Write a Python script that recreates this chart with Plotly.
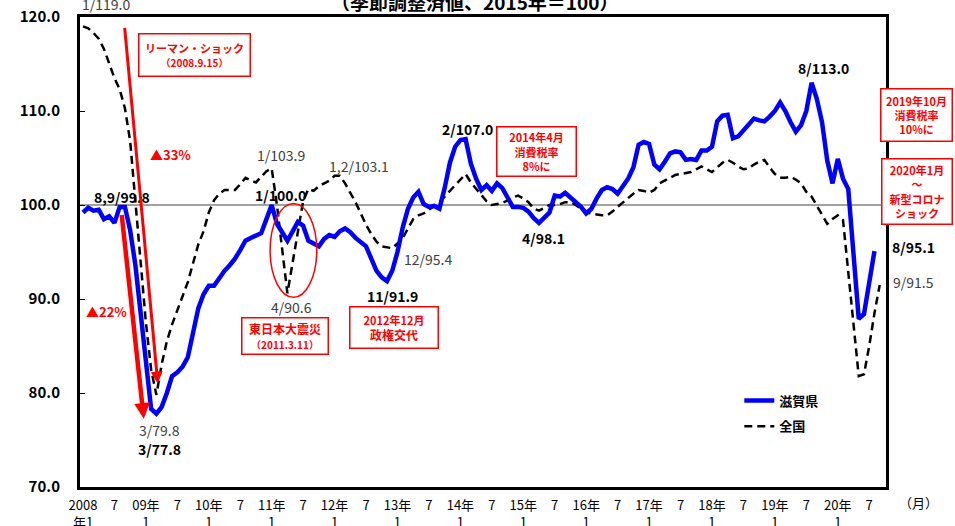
import plotly.graph_objects as go

# ---------------- data ----------------
start_year = 2008
months = [f"{start_year + i // 12}-{i % 12 + 1:02d}" for i in range(153)]

# 滋賀県 (2008-01 .. 2020-08)
shiga = [
    99.2, 99.7, 99.4, 99.5, 98.5, 98.8, 98.1, 99.8, 99.8, 97.3, 93.6, 88.2,
    82.9, 78.3, 77.8, 78.5, 80.0, 81.8, 82.2, 82.8, 83.8, 86.5, 89.0, 90.5,
    91.4, 91.4, 92.3, 93.0, 93.6, 94.3, 95.2, 96.2, 96.5, 96.8, 97.0, 98.5,
    100.0, 98.0, 97.0, 96.2, 97.2, 98.2, 97.8, 96.2, 95.9, 95.6, 96.4, 96.8,
    96.6, 97.2, 97.5, 97.1, 96.5, 96.1, 95.6, 94.3, 93.0, 92.3, 91.9, 93.0,
    95.0, 97.6, 99.6, 100.8, 101.4, 100.1, 99.8, 99.9, 99.6, 101.8, 104.5, 106.2,
    106.9, 107.0, 104.4, 102.8, 101.6, 102.1, 101.5, 102.3, 101.8, 100.8, 99.8, 99.8,
    99.7, 99.3, 98.6, 98.1, 98.6, 99.2, 101.0, 100.9, 101.3, 100.8, 100.4, 99.8,
    99.1, 99.6, 100.7, 101.6, 101.9, 101.7, 101.2, 102.1, 102.8, 104.0, 106.4, 106.7,
    106.5, 104.3, 103.8, 104.6, 105.5, 105.7, 105.6, 104.8, 104.9, 104.8, 105.8, 105.8,
    106.2, 108.9, 109.5, 109.6, 107.1, 107.3, 107.9, 108.6, 109.2, 109.0, 108.9, 109.4,
    110.0, 110.9, 110.0, 108.8, 107.8, 108.5, 110.0, 113.0, 111.3, 108.8, 104.7, 102.3,
    104.9, 102.8, 101.7, 94.8, 87.9, 88.4, 91.6, 95.1,
]

# 全国 (2008-01 .. 2020-09)
zenkoku = [
    119.0, 118.8, 118.3, 117.7, 116.6, 115.0, 113.5, 112.3, 110.3, 106.8, 100.5, 94.0,
    87.5, 82.5, 79.8, 83.0, 85.5, 87.3, 88.8, 90.3, 91.8, 93.8, 95.8, 97.2,
    99.2, 100.5, 101.2, 101.6, 101.6, 101.6, 102.2, 102.9, 102.6, 102.4, 103.0, 103.6,
    103.9, 100.0, 95.3, 90.6, 93.9, 97.1, 100.4, 101.7, 101.5, 102.0, 102.3, 102.6,
    103.1, 103.1, 102.3, 101.3, 100.3, 99.1, 97.9, 96.9, 96.1, 95.6, 95.5, 95.4,
    95.9, 96.5, 97.5, 98.5, 98.9, 99.1, 99.5, 99.9, 100.3, 100.9, 101.5, 102.1,
    102.7, 103.3, 102.4, 101.7, 101.0, 100.4, 100.0, 100.1, 100.2, 100.5, 100.8, 101.0,
    100.7, 100.3, 99.6, 99.4, 99.7, 100.0, 100.0, 100.1, 100.3, 100.3, 100.0, 99.6,
    99.2, 99.1, 99.0, 98.9, 98.9, 99.3, 99.8, 100.3, 100.8, 101.2, 101.6, 101.5,
    101.3, 101.6, 102.3, 102.6, 102.9, 103.2, 103.3, 103.4, 103.5, 103.8, 104.1, 103.8,
    103.5, 104.0, 104.5, 104.8, 104.5, 104.1, 103.8, 103.9, 104.3, 104.6, 104.8, 104.0,
    103.3, 102.9, 102.9, 103.0, 102.7, 102.3, 101.4, 100.9, 99.9, 98.9, 98.0, 98.5,
    98.9, 98.4, 93.0, 87.5, 81.8, 82.0, 85.0, 88.5, 91.5,
]

year_labels = ["2008<br>年1", "09年<br>1", "10年<br>1", "11年<br>1", "12年<br>1",
               "13年<br>1", "14年<br>1", "15年<br>1", "16年<br>1", "17年<br>1",
               "18年<br>1", "19年<br>1", "20年<br>1"]
mid_label = "7"
y_ticks = [70, 80, 90, 100, 110, 120]

FONT = "Noto Sans CJK JP"
RED = "#FF0000"
GRAY = "#404040"

x_idx = list(range(len(months)))
tickvals, ticktext = [], []
for i in range(0, len(months), 6):
    tickvals.append(i)
    ticktext.append(year_labels[i // 12] if i % 12 == 0 else mid_label)

fig = go.Figure()
fig.add_trace(go.Scatter(
    x=x_idx[:len(zenkoku)], y=zenkoku, mode="lines", name="<b>全国</b>",
    line=dict(color="black", width=2.5, dash="8px,5px"), legendgroup="b",
    legendrank=2,
))
fig.add_trace(go.Scatter(
    x=x_idx[:len(shiga)], y=shiga, mode="lines", name="<b>滋賀県</b>",
    line=dict(color="#0000FF", width=4.5), legendgroup="a", legendrank=1,
))

annotations = []

def label(text, x, y, bold=False, size=14, color=None, ref="data"):
    xr, yr = ("x", "y") if ref == "data" else ("paper", "paper")
    annotations.append(dict(
        x=x, y=y, xref=xr, yref=yr, showarrow=False, xanchor="center", yanchor="middle",
        text=f"<b>{text}</b>" if bold else text,
        font=dict(family=FONT, size=size, color=color or ("black" if bold else GRAY)),
    ))

label("1/119.0", 0.0323, 1.0277, ref="paper")
label("8,9/99.8", 7.4, 100.9, bold=True)
label("3/79.8", 14.6, 76.1)
label("3/77.8", 14.6, 74.05, bold=True)
label("1/103.9", 37.7, 105.3)
label("1/100.0", 37.7, 101.1, bold=True)
label("4/90.6", 39.8, 89.1)
label("1,2/103.1", 52.7, 104.1)
label("12/95.4", 65.8, 94.3)
label("11/91.9", 59.0, 90.3, bold=True)
label("2/107.0", 73.4, 108.1, bold=True)
label("4/98.1", 87.9, 96.5, bold=True)
label("8/113.0", 141.3, 114.6, bold=True)
label("8/95.1", 1.0335, 0.5106, bold=True, ref="paper")
label("9/91.5", 1.0347, 0.4362, ref="paper")
label("▲33%", 16.7, 105.4, bold=True, size=13, color=RED)
label("▲22%", 4.4, 88.7, bold=True, size=13, color=RED)

def box(text, x, y, w, h, ref="data"):
    xr, yr = ("x", "y") if ref == "data" else ("paper", "paper")
    annotations.append(dict(
        x=x, y=y, xref=xr, yref=yr, showarrow=False, text=text,
        xanchor="center", yanchor="middle",
        width=w, height=h, align="center", valign="middle",
        bordercolor=RED, borderwidth=1.5, borderpad=0, bgcolor="white",
        font=dict(family=FONT, size=11, color=RED),
    ))

box("<b>リーマン・ショック</b><br><span style='font-size:10px'><b>（2008.9.15）</b></span>",
    21.2, 115.95, 110, 41)
box("<b><span style='font-size:12px'>東日本大震災</span></b><br><span style='font-size:10px'><b>（2011.3.11）</b></span>",
    38.6, 86.1, 85, 35)
box("<b>2012年12月<br><span style='font-size:12px'>政権交代</span></b>", 59.35, 87.0, 87, 40)
box("<b>2014年4月<br>消費税率<br>8%に</b>", 86.6, 105.66, 78, 48)
box("<b>2019年10月<br>消費税率<br>10%に</b>", 1.0378, 0.7915, 70, 51, ref="paper")
box("<b>2020年1月<br>～<br>新型コロナ<br>ショック</b>", 1.0385, 0.6287, 69, 64, ref="paper")

# arrows
annotations.append(dict(x=14.27, y=81.0, ax=7.93, ay=119.0, xref="x", yref="y",
                        axref="x", ayref="y", text="", showarrow=True,
                        arrowhead=2, arrowsize=0.8, arrowwidth=3, arrowcolor=RED))
annotations.append(dict(x=11.6, y=77.25, ax=7.36, ay=99.1, xref="x", yref="y",
                        axref="x", ayref="y", text="", showarrow=True,
                        arrowhead=2, arrowsize=0.7, arrowwidth=4.5, arrowcolor=RED))

# title (cut off at top) and month unit
annotations.append(dict(x=0.49, y=1, xref="paper", yref="paper", yanchor="bottom",
                        xanchor="center", yshift=0, showarrow=False,
                        text="<b>（季節調整済値、2015年＝100）</b>",
                        font=dict(family=FONT, size=19, color="black")))
annotations.append(dict(x=1.04, y=-0.034, xref="paper", yref="paper", yanchor="middle",
                        xanchor="center", showarrow=False, text="（月）",
                        font=dict(family=FONT, size=13, color="black")))

shapes = [
    dict(type="line", xref="paper", yref="y", x0=0, x1=1, y0=100, y1=100,
         line=dict(color="#444444", width=1), layer="below"),
    dict(type="circle", xref="x", yref="y", x0=35.7, x1=44.6, y0=90.18, y1=100.17,
         line=dict(color=RED, width=1.5)),
]

fig.update_layout(
    width=955, height=526,
    margin=dict(l=80, r=69, t=17, b=39, autoexpand=False),
    paper_bgcolor="white", plot_bgcolor="white",
    font=dict(family=FONT, color="black"),
    annotations=annotations, shapes=shapes,
    showlegend=True,
    legend=dict(x=0.818, y=0.216, xanchor="left", yanchor="top",
                bgcolor="rgba(0,0,0,0)", font=dict(family=FONT, size=13),
                tracegroupgap=6, traceorder="grouped"),
)
fig.update_xaxes(
    range=[-0.57, 153.2], tickmode="array", tickvals=tickvals, ticktext=ticktext,
    showgrid=False, zeroline=False, showline=True, linecolor="black", linewidth=3,
    mirror=True, ticks="", ticklabelstandoff=4, automargin=False,
    tickfont=dict(family=FONT, size=13, color="black"),
)
fig.update_yaxes(
    range=[70, 120], tickmode="array", tickvals=y_ticks,
    ticktext=[f"{v:.1f}" for v in y_ticks],
    showgrid=False, zeroline=False, showline=True, linecolor="black", linewidth=3,
    mirror=True, ticks="inside", ticklen=5, tickwidth=1, tickcolor="black",
    ticklabelstandoff=14, automargin=False,
    tickfont=dict(family=FONT, size=15, color="black", weight="bold"),
)

fig.write_html("out.html")
